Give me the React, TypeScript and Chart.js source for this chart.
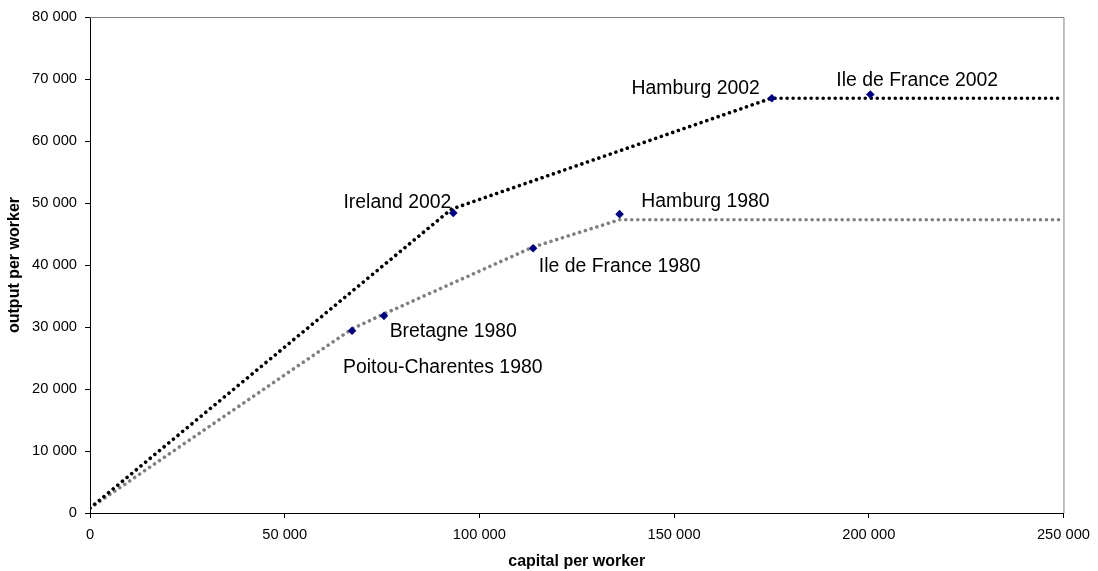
import React, { useEffect, useRef } from "react";
import { Chart, registerables } from "chart.js";

Chart.register(...registerables);

// Regional observations (capital and output per worker)
const regionNames = [
  "Ireland 2002",
  "Hamburg 2002",
  "Ile de France 2002",
  "Hamburg 1980",
  "Ile de France 1980",
  "Bretagne 1980",
  "Poitou-Charentes 1980",
];
const regionCapital = [93300, 175100, 200400, 136000, 113800, 75500, 67300];
const regionOutput = [48400, 66900, 67500, 48200, 42700, 31800, 29400];

// Frontier 2002 (black dotted)
const frontier2002Capital = [0, 92800, 175000, 250000];
const frontier2002Output = [800, 49000, 66900, 66900];

// Frontier 1980 (grey dotted)
const frontier1980Capital = [0, 67300, 75500, 113800, 136000, 250000];
const frontier1980Output = [800, 29700, 32100, 42900, 47300, 47300];

// Axis ticks
const xTickValues = [0, 50000, 100000, 150000, 200000, 250000];
const yTickValues = [0, 10000, 20000, 30000, 40000, 50000, 60000, 70000, 80000];

// Label placement relative to each point, in pixels: [dx, dy, align]
const labelPlacement: [number, number, CanvasTextAlign][] = [
  [-2, -10, "right"],
  [-12, -9.5, "right"],
  [-34, -13.6, "left"],
  [21.7, -12.6, "left"],
  [5.7, 18.4, "left"],
  [5.7, 16, "left"],
  [-9, 37, "left"],
];

const FONT = "'Liberation Sans', Arial, sans-serif";

const fmt = (v: number) =>
  v === 0 ? "0" : String(v).replace(/\B(?=(\d{3})+(?!\d))/g, " ");

const toPoints = (xs: number[], ys: number[]) => xs.map((x, i) => ({ x, y: ys[i] }));

const frameAndLabels = {
  id: "frameAndLabels",
  beforeDatasetsDraw(chart: any) {
    const { ctx, chartArea: a } = chart;
    ctx.save();
    ctx.strokeStyle = "#808080";
    ctx.lineWidth = 1;
    ctx.beginPath();
    ctx.moveTo(a.left, a.top + 0.5);
    ctx.lineTo(a.right + 0.5, a.top + 0.5);
    ctx.lineTo(a.right + 0.5, a.bottom);
    ctx.stroke();
    ctx.restore();
  },
  afterDatasetsDraw(chart: any) {
    const { ctx, scales } = chart;
    ctx.save();
    ctx.font = `19.4px ${FONT}`;
    ctx.fillStyle = "#000";
    ctx.textBaseline = "middle";
    regionNames.forEach((name, i) => {
      const px = scales.x.getPixelForValue(regionCapital[i]);
      const py = scales.y.getPixelForValue(regionOutput[i]);
      const [dx, dy, align] = labelPlacement[i];
      ctx.textAlign = align;
      ctx.fillText(name, px + dx, py + dy);
    });
    ctx.restore();
  },
};

export default function App() {
  const canvasRef = useRef<HTMLCanvasElement>(null);

  useEffect(() => {
    if (!canvasRef.current) return;
    const dotted = {
      borderWidth: 3.6,
      borderDash: [0.01, 6],
      borderCapStyle: "round" as const,
      pointRadius: 0,
      pointHoverRadius: 0,
      showLine: true,
      tension: 0,
      fill: false,
    };
    const chart = new Chart(canvasRef.current, {
      type: "scatter",
      data: {
        datasets: [
          {
            label: "regions",
            data: toPoints(regionCapital, regionOutput),
            pointStyle: "rectRot",
            pointRadius: 4.3,
            backgroundColor: "#000080",
            borderColor: "#000080",
            borderWidth: 0,
            showLine: false,
          },
          {
            label: "2002",
            data: toPoints(frontier2002Capital, frontier2002Output),
            borderColor: "#000000",
            ...dotted,
          },
          {
            label: "1980",
            data: toPoints(frontier1980Capital, frontier1980Output),
            borderColor: "#808080",
            ...dotted,
          },
        ],
      },
      options: {
        animation: false,
        responsive: true,
        maintainAspectRatio: false,
        layout: { padding: { top: 17, right: 34, left: 0, bottom: 0 } },
        plugins: {
          legend: { display: false },
          tooltip: { enabled: false },
        },
        scales: {
          x: {
            type: "linear",
            min: 0,
            max: 250000,
            afterBuildTicks: (s: any) => {
              s.ticks = xTickValues.map((value) => ({ value }));
            },
            afterFit: (s: any) => {
              s.height = 58;
            },
            ticks: {
              callback: (v: any) => fmt(Number(v)),
              font: { family: FONT, size: 14.7 },
              color: "#000",
              padding: 8,
              maxRotation: 0,
            },
            grid: {
              drawOnChartArea: false,
              drawTicks: true,
              tickLength: 5,
              color: "#000",
            },
            border: { display: true, color: "#000", width: 1 },
            title: {
              display: true,
              text: "capital per worker",
              font: { family: FONT, size: 16, weight: "bold" },
              color: "#000",
              padding: { top: 0, bottom: 0 },
            },
          },
          y: {
            type: "linear",
            min: 0,
            max: 80000,
            afterBuildTicks: (s: any) => {
              s.ticks = yTickValues.map((value) => ({ value }));
            },
            afterFit: (s: any) => {
              s.width = 90;
            },
            ticks: {
              callback: (v: any) => fmt(Number(v)),
              font: { family: FONT, size: 14.7 },
              color: "#000",
              padding: 8,
            },
            grid: {
              drawOnChartArea: false,
              drawTicks: true,
              tickLength: 5,
              color: "#000",
            },
            border: { display: true, color: "#000", width: 1 },
            title: {
              display: true,
              text: "output per worker",
              font: { family: FONT, size: 16, weight: "bold" },
              color: "#000",
              padding: { top: 5, bottom: 0 },
            },
          },
        },
      },
      plugins: [frameAndLabels],
    });
    return () => chart.destroy();
  }, []);

  return (
    <div
      style={{
        position: "fixed",
        left: 0,
        top: 0,
        width: 1098,
        height: 571,
        background: "#fff",
      }}
    >
      <canvas ref={canvasRef} />
    </div>
  );
}
